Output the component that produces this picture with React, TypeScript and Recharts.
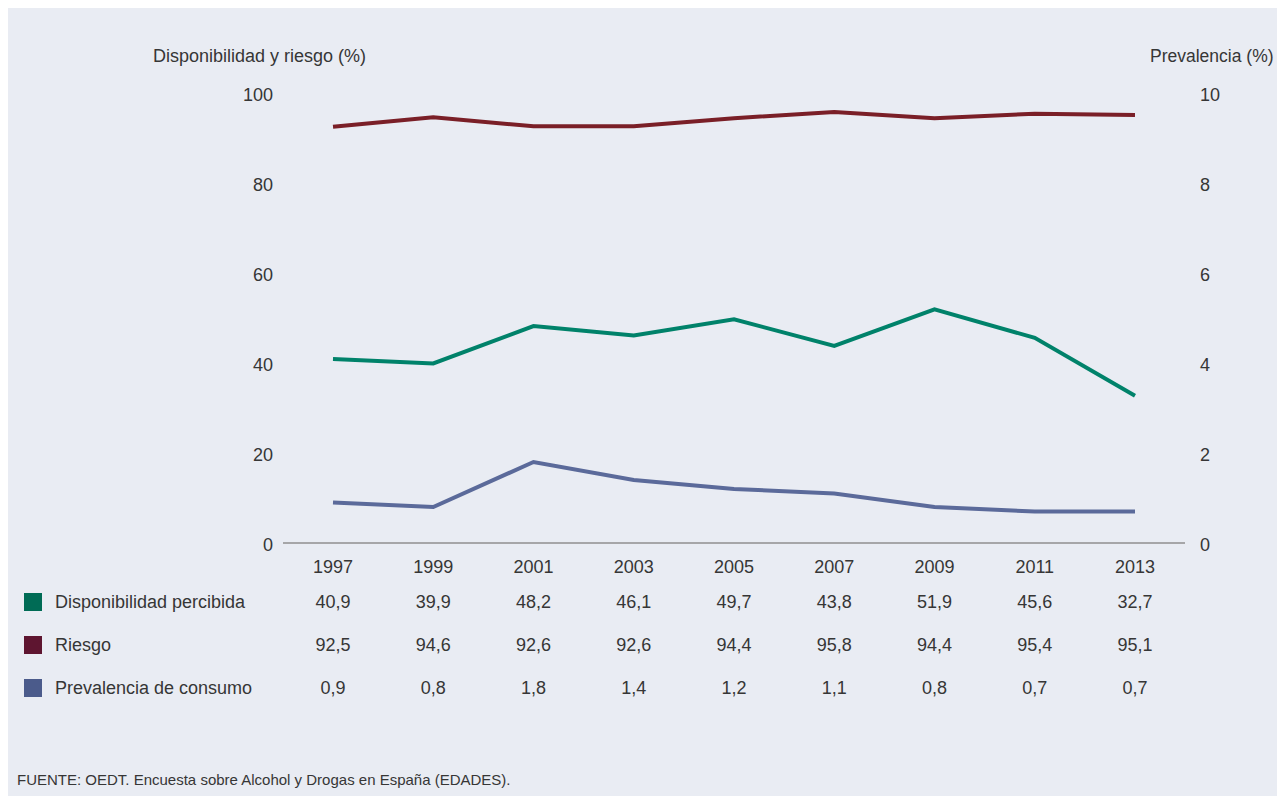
import { LineChart, Line, XAxis, YAxis } from "recharts";

const years = ["1997", "1999", "2001", "2003", "2005", "2007", "2009", "2011", "2013"];
const disponibilidad = [40.9, 39.9, 48.2, 46.1, 49.7, 43.8, 51.9, 45.6, 32.7];
const riesgo = [92.5, 94.6, 92.6, 92.6, 94.4, 95.8, 94.4, 95.4, 95.1];
const prevalencia = [0.9, 0.8, 1.8, 1.4, 1.2, 1.1, 0.8, 0.7, 0.7];

const leftTicks = [0, 20, 40, 60, 80, 100];
const rightTicks = [0, 2, 4, 6, 8, 10];

const FONT = "'Liberation Sans', Arial, sans-serif";
const TEXT = "#363636";

const rows = [
  { label: "Disponibilidad percibida", values: disponibilidad, swatch: "#006b55", line: "#00826a" },
  { label: "Riesgo", values: riesgo, swatch: "#5e1530", line: "#7a1f27" },
  { label: "Prevalencia de consumo", values: prevalencia, swatch: "#4b5b8b", line: "#5b6a9a" },
];

const data = years.map((y, i) => ({
  year: y,
  disp: disponibilidad[i],
  riesgo: riesgo[i],
  prev: prevalencia[i],
}));

const fmt = (v: number) => v.toFixed(1).replace(".", ",");

// vertical offsets of the table rows below the x axis line
const AXIS_Y = 535;
const YEAR_OFFSET = 24;
const ROW_OFFSETS = [59, 102, 145];

function TableTick({ x, y, payload, index }: any) {
  const i = index ?? years.indexOf(payload.value);
  return (
    <g>
      <text x={x} y={y + YEAR_OFFSET} textAnchor="middle" dominantBaseline="central" fill={TEXT} fontSize={18} fontFamily={FONT}>
        {payload.value}
      </text>
      {rows.map((r, k) => (
        <text
          key={k}
          x={x}
          y={y + ROW_OFFSETS[k]}
          textAnchor="middle"
          dominantBaseline="central"
          fill={TEXT}
          fontSize={18}
          fontFamily={FONT}
        >
          {fmt(r.values[i])}
        </text>
      ))}
    </g>
  );
}

function YTick({ x, y, payload, anchor }: any) {
  return (
    <text x={x} y={y + 2} textAnchor={anchor} dominantBaseline="central" fill={TEXT} fontSize={18} fontFamily={FONT}>
      {payload.value}
    </text>
  );
}

export default function App() {
  return (
    <div
      style={{
        position: "relative",
        width: 1277,
        height: 788,
        background: "#e9ecf3",
        fontFamily: FONT,
        color: TEXT,
      }}
    >
      <div style={{ position: "absolute", left: 145, top: 38, fontSize: 18 }}>Disponibilidad y riesgo (%)</div>
      <div style={{ position: "absolute", left: 1142, top: 38, fontSize: 17.5 }}>Prevalencia (%)</div>

      <LineChart width={1277} height={AXIS_Y + 170} data={data} margin={{ top: 85, right: 0, left: 0, bottom: 0 }}>
        <XAxis
          dataKey="year"
          padding={{ left: 50, right: 50 }}
          axisLine={{ stroke: "#8f8f8f", strokeWidth: 1.5 }}
          tickLine={false}
          tickSize={0}
          tickMargin={0}
          height={170}
          interval={0}
          tick={<TableTick />}
        />
        <YAxis
          yAxisId="left"
          domain={[0, 100]}
          ticks={leftTicks}
          width={275}
          axisLine={false}
          tickLine={false}
          tickMargin={4}
          tick={<YTick anchor="end" />}
        />
        <YAxis
          yAxisId="right"
          orientation="right"
          domain={[0, 10]}
          ticks={rightTicks}
          width={100}
          axisLine={false}
          tickLine={false}
          tickMargin={9}
          tick={<YTick anchor="start" />}
        />
        <Line yAxisId="left" dataKey="riesgo" stroke={rows[1].line} strokeWidth={4} dot={false} isAnimationActive={false} />
        <Line yAxisId="left" dataKey="disp" stroke={rows[0].line} strokeWidth={4} dot={false} isAnimationActive={false} />
        <Line yAxisId="right" dataKey="prev" stroke={rows[2].line} strokeWidth={4} dot={false} isAnimationActive={false} />
      </LineChart>

      {rows.map((r, k) => (
        <div
          key={k}
          style={{
            position: "absolute",
            left: 16,
            top: AXIS_Y + ROW_OFFSETS[k] - 10,
            height: 20,
            display: "flex",
            alignItems: "center",
            fontSize: 18,
          }}
        >
          <span style={{ width: 18, height: 18, background: r.swatch, display: "inline-block", marginRight: 13 }} />
          {r.label}
        </div>
      ))}

      <div style={{ position: "absolute", left: 9, top: 763, fontSize: 15 }}>
        FUENTE: OEDT. Encuesta sobre Alcohol y Drogas en España (EDADES).
      </div>
    </div>
  );
}
